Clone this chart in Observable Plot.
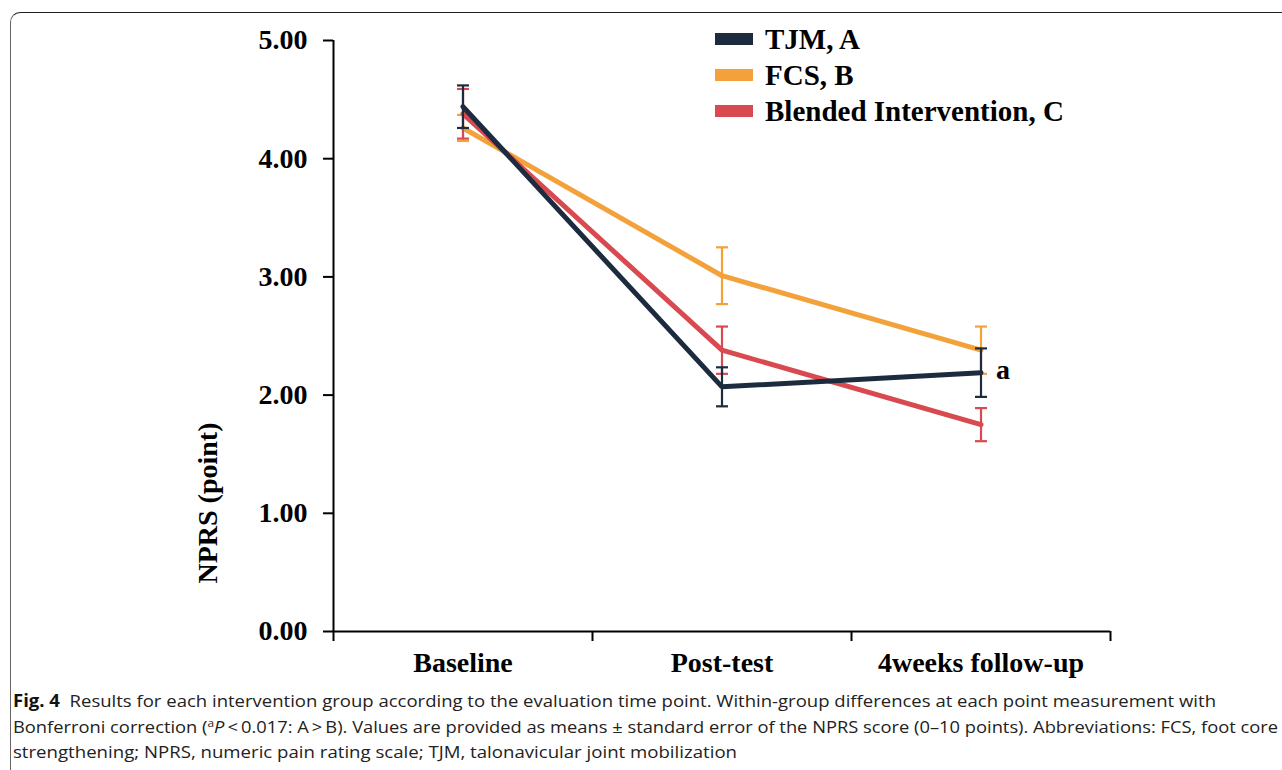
<!DOCTYPE html>
<html>
<head>
<meta charset="utf-8">
<script src="https://cdn.jsdelivr.net/npm/d3@7"></script>
<script src="https://cdn.jsdelivr.net/npm/@observablehq/plot@0.6"></script>
<style>
  body { margin: 0; background: #fff; width: 1282px; height: 770px; overflow: hidden; position: relative; }
  #frame { position: absolute; left: 10px; top: 12px; width: 1300px; height: 800px;
           border-top: 1.5px solid #222; border-left: 1.5px solid #666; border-top-left-radius: 10px; }
  #chart { position: absolute; left: 0; top: 0; }
  #legend { position: absolute; left: 715px; top: 21px; font: bold 29px "Liberation Serif", "DejaVu Serif", serif; color: #000; }
  .item { display: flex; align-items: center; height: 36px; }
  .sw { width: 38px; height: 12px; margin-right: 12px; }
  #ylabel { position: absolute; left: 208px; top: 503px; transform: translate(-50%, -50%) rotate(-90deg);
            font: bold 28px "Liberation Serif", serif; white-space: nowrap; color: #000; }
  #caption { position: absolute; left: 13px; top: 688px; font-family: "Liberation Sans Narrow", "Open Sans", sans-serif;
             font-size: 17px; color: #222; }
  .cl { white-space: nowrap; height: 25.5px; line-height: 25.5px; transform-origin: left center; width: max-content; overflow: visible; }
  .cl b { font-weight: bold; color: #111; }
  .sup { position: relative; top: -6px; font-size: 11px; line-height: 0; }
</style>
</head>
<body>
<div id="frame"></div>
<div id="chart"></div>
<div id="legend"></div>
<div id="ylabel">NPRS (point)</div>
<div id="caption">
  <div class="cl" data-w="1203"><b>Fig. 4</b>&nbsp;&nbsp;Results for each intervention group according to the evaluation time point. Within-group differences at each point measurement with</div>
  <div class="cl" data-w="1265">Bonferroni correction (<span class="sup">a</span><i>P</i>&thinsp;&lt;&thinsp;0.017: A&thinsp;&gt;&thinsp;B). Values are provided as means ± standard error of the NPRS score (0–10 points). Abbreviations: FCS, foot core</div>
  <div class="cl" data-w="724">strengthening; NPRS, numeric pain rating scale; TJM, talonavicular joint mobilization</div>
</div>
<script>
// ---- data ----
const timePoints = ["Baseline", "Post-test", "4weeks follow-up"];
const groups = ["TJM, A", "FCS, B", "Blended Intervention, C"];
const groupColors = ["#1d2b3e", "#f3a23b", "#d94a50"];
const tjmMean = [4.44, 2.07, 2.19];
const tjmSE = [0.18, 0.165, 0.205];
const fcsMean = [4.26, 3.01, 2.38];
const fcsSE = [0.11, 0.24, 0.20];
const blendedMean = [4.38, 2.38, 1.75];
const blendedSE = [0.21, 0.20, 0.14];
const yTicks = [0, 1, 2, 3, 4, 5];
const annotationGroup = "TJM, A";
const annotationTime = "4weeks follow-up";
const annotationText = "a";

// ---- build table ----
const means = [tjmMean, fcsMean, blendedMean];
const ses = [tjmSE, fcsSE, blendedSE];
const rows = [];
groups.forEach((g, gi) => {
  timePoints.forEach((t, ti) => {
    rows.push({group: g, time: t, xi: ti + 0.5, mean: means[gi][ti],
               lo: means[gi][ti] - ses[gi][ti], hi: means[gi][ti] + ses[gi][ti]});
  });
});
const caps = rows.flatMap(r => [{...r, y: r.lo}, {...r, y: r.hi}]);
const annot = rows.filter(r => r.group === annotationGroup && r.time === annotationTime)
                  .map(r => ({...r, text: annotationText}));

const capSymbol = {
  draw(ctx, size) {
    const w = Math.sqrt(size / Math.PI);
    ctx.moveTo(-w, 0);
    ctx.lineTo(w, 0);
  }
};

const drawOrder = ["FCS, B", "Blended Intervention, C", "TJM, A"];
const serif = '"Liberation Serif", "DejaVu Serif", serif';

const marks = [];
marks.push(Plot.ruleX([0], {stroke: "#000", strokeWidth: 2}));
marks.push(Plot.ruleY([0], {stroke: "#000", strokeWidth: 2}));
marks.push(Plot.axisY({ticks: yTicks, tickFormat: d => d.toFixed(2), tickSize: 10, tickPadding: 16,
  strokeWidth: 2, stroke: "#000", fill: "#000", fontSize: 28, fontWeight: "bold", fontFamily: serif, label: null}));
marks.push(Plot.axisX({ticks: [0, 1, 2, 3], tickFormat: () => "", tickSize: 10, strokeWidth: 2, stroke: "#000", label: null}));
marks.push(Plot.axisX({ticks: timePoints.map((t, i) => i + 0.5), tickFormat: d => timePoints[Math.floor(d)],
  tickSize: 0, tickPadding: 21, fill: "#000", fontSize: 28, fontWeight: "bold", fontFamily: serif, label: null}));

for (const g of drawOrder) {
  const data = rows.filter(r => r.group === g);
  const c = groupColors[groups.indexOf(g)];
  marks.push(Plot.ruleX(data, {x: "xi", y1: "lo", y2: "hi", stroke: c, strokeWidth: 2.2}));
  marks.push(Plot.dot(caps.filter(r => r.group === g), {x: "xi", y: "y", symbol: capSymbol, r: 6, stroke: c, strokeWidth: 2.2, fill: "none"}));
  marks.push(Plot.line(data, {x: "xi", y: "mean", stroke: c, strokeWidth: 5, strokeLinejoin: "miter"}));
}
marks.push(Plot.text(annot, {x: "xi", y: "mean", text: "text", dx: 15, dy: -3, textAnchor: "start",
  fontSize: 28, fontWeight: "bold", fontFamily: serif, fill: "#000"}));

const plot = Plot.plot({
  width: 1282,
  height: 690,
  marginLeft: 333,
  marginRight: 172,
  marginTop: 40,
  marginBottom: 59,
  x: {type: "linear", domain: [0, 3], axis: null},
  y: {domain: [0, 5], axis: null},
  style: {background: "transparent", fontFamily: serif, color: "#000"},
  marks
});
document.getElementById("chart").appendChild(plot);

// legend
const legend = document.getElementById("legend");
groups.forEach((g, i) => {
  const item = document.createElement("div");
  item.className = "item";
  const sw = document.createElement("span");
  sw.className = "sw";
  sw.style.background = groupColors[i];
  const lab = document.createElement("span");
  lab.textContent = g;
  item.appendChild(sw);
  item.appendChild(lab);
  legend.appendChild(item);
});

// fit caption lines
document.querySelectorAll(".cl").forEach(el => {
  const target = +el.dataset.w;
  const w = el.getBoundingClientRect().width;
  if (w > 0) el.style.transform = `scaleX(${target / w})`;
});
</script>
</body>
</html>
